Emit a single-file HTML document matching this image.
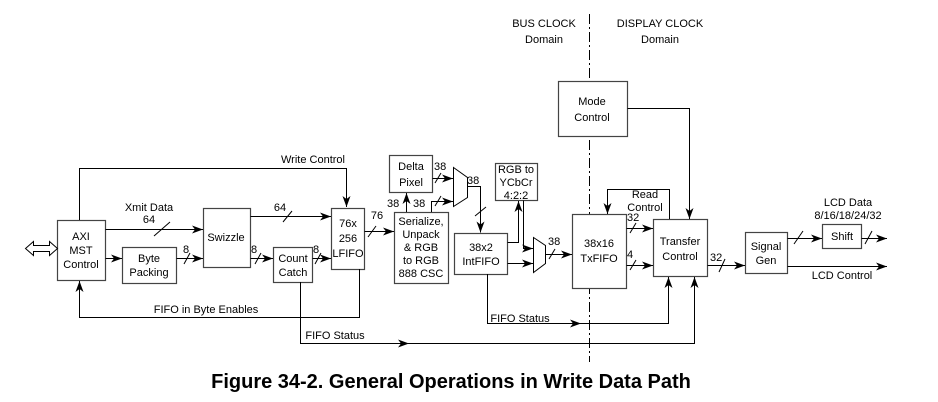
<!DOCTYPE html>
<html><head><meta charset="utf-8"><style>
html,body{margin:0;padding:0;background:#fff;}
svg{display:block;}
text{font-family:"Liberation Sans",Arial,sans-serif;font-size:11px;fill:#000;}
</style></head><body>
<svg width="938" height="402" viewBox="0 0 938 402" xmlns="http://www.w3.org/2000/svg">
<defs>
<marker id="a" markerWidth="12" markerHeight="8" refX="11" refY="4" orient="auto" markerUnits="userSpaceOnUse">
<path d="M0,0 L11,4 L0,8 L3,4 Z" fill="#000"/>
</marker>
</defs>
<g fill="none" stroke="#000" stroke-width="1">
<path d="M589.5,14 V362" stroke-dasharray="10,3,2,3"/>
</g>
<g fill="#fff" stroke="#444" stroke-width="1.2">
<rect x="57.5" y="220.5" width="48" height="60"/>
<rect x="122.5" y="247.5" width="54" height="36"/>
<rect x="203.5" y="208.5" width="47" height="59"/>
<rect x="273.5" y="247.5" width="39" height="35"/>
<rect x="331.5" y="208.5" width="33" height="61"/>
<rect x="389.5" y="155.5" width="43" height="37"/>
<rect x="394.5" y="212.5" width="54" height="71"/>
<rect x="454.5" y="233.5" width="53" height="41"/>
<rect x="495.5" y="163.5" width="42" height="37"/>
<rect x="572.5" y="214.5" width="54" height="74"/>
<rect x="653.5" y="219.5" width="54" height="57"/>
<rect x="745.5" y="232.5" width="42" height="41"/>
<rect x="822.5" y="224.5" width="39" height="24"/>
<rect x="558.5" y="81.5" width="69" height="55"/>
</g>
<g fill="none" stroke="#000" stroke-width="1">
<path d="M453.5,167.5 L467.5,177.5 L467.5,197.5 L453.5,206.5 Z"/>
<path d="M533.5,237.5 L545.5,245.5 L545.5,263.5 L533.5,272.5 Z"/>
<path d="M25.5,248.5 L33.5,241.5 L33.5,245.5 L49.5,245.5 L49.5,241.5 L57.5,248.5 L49.5,255.5 L49.5,251.5 L33.5,251.5 L33.5,255.5 Z"/>
<path d="M79.5,220 V168.5 H346.5 V207" marker-end="url(#a)"/>
<path d="M105.5,229.5 H203" marker-end="url(#a)"/>
<path d="M154,236 L170,222"/>
<path d="M105.5,258.5 H122" marker-end="url(#a)"/>
<path d="M176.5,258.5 H203" marker-end="url(#a)"/>
<path d="M184,264 L190,253"/>
<path d="M250.5,216.5 H331" marker-end="url(#a)"/>
<path d="M283,222 L292,211"/>
<path d="M250.5,258.5 H273" marker-end="url(#a)"/>
<path d="M255,264 L261,253"/>
<path d="M312.5,258.5 H331" marker-end="url(#a)"/>
<path d="M315,264 L321,253"/>
<path d="M364.5,231.5 H394" marker-end="url(#a)"/>
<path d="M368,237 L376,226"/>
<path d="M359.5,269 V317.5 H79.5 V281" marker-end="url(#a)"/>
<path d="M300.5,282 V343.5 H694.5 V277" marker-end="url(#a)"/>
<path d="M300.5,343.5 H409" marker-end="url(#a)"/>
<path d="M406.5,212 V193" marker-end="url(#a)"/>
<path d="M432.5,178.5 H453" marker-end="url(#a)"/>
<path d="M435,183 L441,173"/>
<path d="M431.5,212 V201.5 H453" marker-end="url(#a)"/>
<path d="M435,206 L441,196"/>
<path d="M467.5,186.5 H480.5 V232.5" marker-end="url(#a)"/>
<path d="M475,216 L486,207"/>
<path d="M507.5,242.5 H518.5 V201" marker-end="url(#a)"/>
<path d="M523.5,200.5 V248.5 H533" marker-end="url(#a)"/>
<path d="M507.5,263.5 H533" marker-end="url(#a)"/>
<path d="M545.5,254.5 H572" marker-end="url(#a)"/>
<path d="M549,259 L555,249"/>
<path d="M487.5,274 V323.5 H668.5 V277" marker-end="url(#a)"/>
<path d="M487.5,323.5 H581" marker-end="url(#a)"/>
<path d="M669.5,219 V189.5 H607.5 V214" marker-end="url(#a)"/>
<path d="M626.5,228.5 H653" marker-end="url(#a)"/>
<path d="M630,233 L636,223"/>
<path d="M626.5,265.5 H653" marker-end="url(#a)"/>
<path d="M630,270 L636,260"/>
<path d="M627.5,108.5 H689.5 V219" marker-end="url(#a)"/>
<path d="M707.5,265.5 H745" marker-end="url(#a)"/>
<path d="M719,272 L725,259"/>
<path d="M787.5,238.5 H822" marker-end="url(#a)"/>
<path d="M794,244 L803,231"/>
<path d="M861.5,238.5 H887" marker-end="url(#a)"/>
<path d="M865,244 L872,231"/>
<path d="M787.5,266.5 H887" marker-end="url(#a)"/>
</g>
<g text-anchor="middle">
<text x="81" y="240">AXI</text><text x="81" y="254">MST</text><text x="81" y="268">Control</text>
<text x="149" y="262">Byte</text><text x="149" y="276">Packing</text>
<text x="226" y="241">Swizzle</text>
<text x="293" y="262">Count</text><text x="293" y="276">Catch</text>
<text x="348" y="227">76x</text><text x="348" y="242">256</text><text x="348" y="257">LFIFO</text>
<text x="411" y="170">Delta</text><text x="411" y="186">Pixel</text>
<text x="421" y="225">Serialize,</text><text x="421" y="238">Unpack</text><text x="421" y="251">&amp; RGB</text><text x="421" y="264">to RGB</text><text x="421" y="277">888 CSC</text>
<text x="481" y="251">38x2</text><text x="481" y="265">IntFIFO</text>
<text x="516" y="173">RGB to</text><text x="516" y="186">YCbCr</text><text x="516" y="199">4:2:2</text>
<text x="599" y="247">38x16</text><text x="599" y="262">TxFIFO</text>
<text x="680" y="245">Transfer</text><text x="680" y="260">Control</text>
<text x="766" y="250">Signal</text><text x="766" y="264">Gen</text>
<text x="842" y="240">Shift</text>
<text x="592" y="105">Mode</text><text x="592" y="121">Control</text>
<text x="544" y="27">BUS CLOCK</text><text x="544" y="43">Domain</text>
<text x="660" y="27">DISPLAY CLOCK</text><text x="660" y="43">Domain</text>
<text x="313" y="163">Write Control</text>
<text x="149" y="211">Xmit Data</text>
<text x="149" y="223">64</text>
<text x="280" y="211">64</text>
<text x="377" y="219">76</text>
<text x="206" y="313">FIFO in Byte Enables</text>
<text x="335" y="339">FIFO Status</text>
<text x="520" y="322">FIFO Status</text>
<text x="645" y="198">Read</text><text x="645" y="211">Control</text>
<text x="848" y="206">LCD Data</text>
<text x="848" y="219">8/16/18/24/32</text>
<text x="842" y="279">LCD Control</text>
</g>
<text x="183" y="253">8</text>
<text x="251" y="253">8</text>
<text x="313" y="253">8</text>
<text x="434" y="170">38</text>
<text x="467" y="184">38</text>
<text x="387" y="207">38</text>
<text x="413" y="207">38</text>
<text x="548" y="245">38</text>
<text x="627" y="221">32</text>
<text x="627" y="258">4</text>
<text x="710" y="261">32</text>
<text x="451" y="388" text-anchor="middle" style="font-size:20px;font-weight:bold;">Figure 34-2. General Operations in Write Data Path</text>
</svg>
</body></html>
